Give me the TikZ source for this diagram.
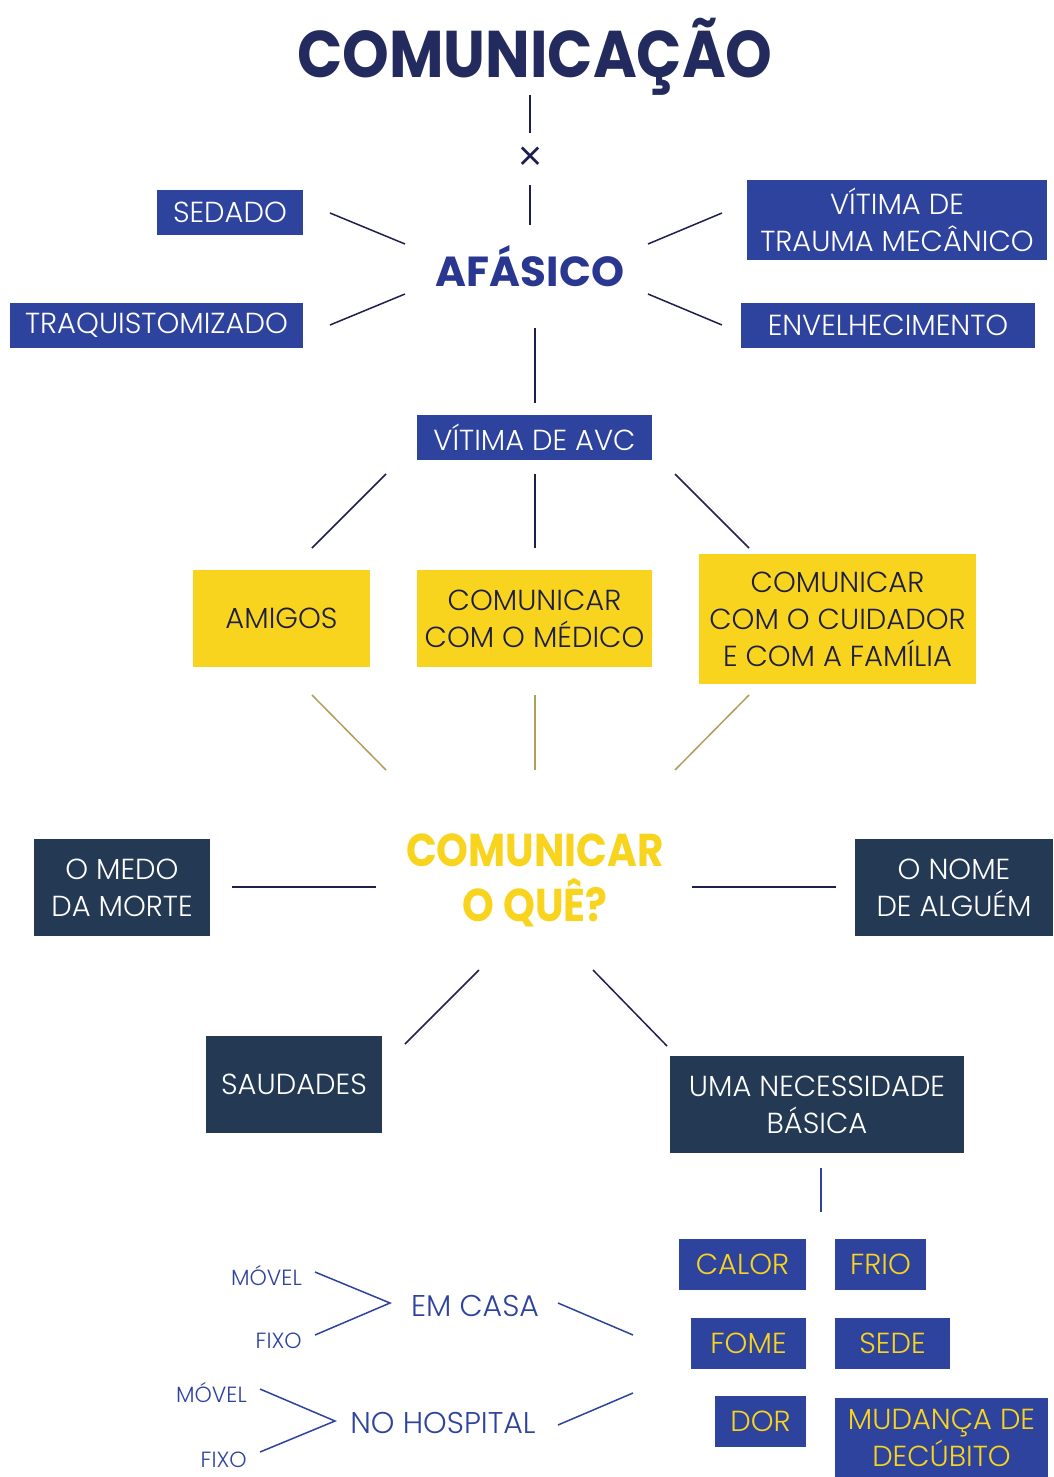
\documentclass[tikz,border=0pt]{standalone}
\usepackage{fontspec}
\setmainfont{Poppins}[UprightFont=* Light, BoldFont=* Bold]
\definecolor{navy}{RGB}{35,43,94}
\definecolor{afblue}{RGB}{42,55,144}
\definecolor{boxblue}{RGB}{46,67,158}
\definecolor{ylw}{RGB}{248,212,30}
\definecolor{slate}{RGB}{35,57,84}
\definecolor{lnnavy}{RGB}{31,31,79}
\definecolor{olive}{RGB}{176,158,90}
\definecolor{ytext}{RGB}{30,30,64}
\begin{document}
\begin{tikzpicture}[x=1pt,y=-1pt,
  boxtxt/.style={font=\fontsize{29}{37}\selectfont, align=center, inner sep=0pt},
  bluebox/.style={boxtxt, fill=boxblue, text=white},
  goldbox/.style={boxtxt, fill=boxblue, text=ylw},
  ybox/.style={boxtxt, fill=ylw, text=ytext},
  sbox/.style={boxtxt, fill=slate, text=white},
  ln/.style={draw=lnnavy, line width=1.5pt},
  oln/.style={draw=olive, line width=1.5pt},
  bln/.style={draw=boxblue, line width=1.5pt},
  small/.style={font=\fontsize{22}{26}\selectfont, text=boxblue, inner sep=0pt},
  mid/.style={font=\fontsize{30}{36}\selectfont, text=boxblue, inner sep=0pt}
]
\useasboundingbox[fill=white] (0,0) rectangle (1053,1477);

% title
\node[font=\bfseries\fontsize{66}{70}\selectfont, text=navy, inner sep=0pt, xscale=0.9] (title) at (535,57) {COMUNICAÇÃO};
\coordinate (t1) at (530,95); \coordinate (t2) at (530,133);
\node[font=\fontsize{44}{44}\selectfont, text=lnnavy, inner sep=0pt] (cross) at (530,160) {×};
\coordinate (t3) at (530,185); \coordinate (t4) at (530,225);
\draw[ln] (t1) -- (t2);
\draw[ln] (t3) -- (t4);

\node[font=\bfseries\fontsize{42}{46}\selectfont, text=afblue, inner sep=0pt] (afasico) at (530,266) {AFÁSICO};

\node[bluebox, minimum width=146pt, minimum height=45pt] (sedado) at (230,212.5) {SEDADO};
\node[bluebox, minimum width=293pt, minimum height=45pt] (traq) at (156.5,325.5) {TRAQUISTOMIZADO};
\node[bluebox, minimum width=300pt, minimum height=80pt] (trauma) at (897,220) {VÍTIMA DE\\TRAUMA MECÂNICO};
\node[bluebox, minimum width=294pt, minimum height=45pt] (envel) at (888,325.5) {ENVELHECIMENTO};

\coordinate (a1) at (405,244); \coordinate (s1) at (330,213);
\coordinate (a2) at (405,294); \coordinate (s2) at (330,325);
\coordinate (a3) at (648,244); \coordinate (s3) at (722,213);
\coordinate (a4) at (648,294); \coordinate (s4) at (722,325);
\draw[ln] (a1) -- (s1);
\draw[ln] (a2) -- (s2);
\draw[ln] (a3) -- (s3);
\draw[ln] (a4) -- (s4);

\coordinate (a5) at (535,328); \coordinate (v0) at (535,403);
\draw[ln] (a5) -- (v0);

\node[bluebox, minimum width=235pt, minimum height=45pt] (avc) at (534.5,437.5) {VÍTIMA DE AVC};

\coordinate (v1) at (386,474); \coordinate (m1) at (312,548);
\coordinate (v2) at (535,474); \coordinate (m2) at (535,548);
\coordinate (v3) at (675,474); \coordinate (m3) at (749,548);
\draw[ln] (v1) -- (m1);
\draw[ln] (v2) -- (m2);
\draw[ln] (v3) -- (m3);

\node[ybox, minimum width=177pt, minimum height=97pt] (amigos) at (281.5,618.5) {AMIGOS};
\node[ybox, minimum width=235pt, minimum height=97pt] (medico) at (534.5,618.5) {COMUNICAR\\COM O MÉDICO};
\node[ybox, minimum width=277pt, minimum height=130pt] (cuidador) at (837.5,619) {COMUNICAR\\COM O CUIDADOR\\E COM A FAMÍLIA};

\coordinate (n1) at (312,695); \coordinate (q1) at (386,770);
\coordinate (n2) at (535,695); \coordinate (q2) at (535,770);
\coordinate (n3) at (749,695); \coordinate (q3) at (675,770);
\draw[oln] (n1) -- (q1);
\draw[oln] (n2) -- (q2);
\draw[oln] (n3) -- (q3);

\node[font=\bfseries\fontsize{46}{55}\selectfont, text=ylw, align=center, inner sep=0pt, xscale=0.88] (que) at (535,880) {COMUNICAR\\O QUÊ?};

\node[sbox, minimum width=176pt, minimum height=97pt] (medo) at (122,887.5) {O MEDO\\DA MORTE};
\node[sbox, minimum width=198pt, minimum height=97pt] (nome) at (954,887.5) {O NOME\\DE ALGUÉM};

\coordinate (q4) at (376,887); \coordinate (e4) at (232,887);
\coordinate (q5) at (692,887); \coordinate (e5) at (836,887);
\draw[ln] (q4) -- (e4);
\draw[ln] (q5) -- (e5);

\coordinate (q6) at (479,970); \coordinate (e6) at (405,1044);
\coordinate (q7) at (593,970); \coordinate (e7) at (667,1046);
\draw[ln] (q6) -- (e6);
\draw[ln] (q7) -- (e7);

\node[sbox, minimum width=176pt, minimum height=97pt] (saudades) at (294,1084.5) {SAUDADES};
\node[sbox, minimum width=294pt, minimum height=97pt] (necess) at (817,1104.5) {UMA NECESSIDADE\\BÁSICA};

\coordinate (b1) at (821,1168); \coordinate (b2) at (821,1212);
\draw[bln] (b1) -- (b2);

\node[goldbox, minimum width=127pt, minimum height=51pt] (calor) at (742.5,1264.5) {CALOR};
\node[goldbox, minimum width=91pt, minimum height=51pt] (frio) at (880.5,1264.5) {FRIO};
\node[goldbox, minimum width=115pt, minimum height=51pt] (fome) at (748.5,1343.5) {FOME};
\node[goldbox, minimum width=115pt, minimum height=51pt] (sede) at (892.5,1343.5) {SEDE};
\node[goldbox, minimum width=91pt, minimum height=51pt] (dor) at (760.5,1421.5) {DOR};
\node[goldbox, minimum width=213pt, minimum height=81pt, text depth=0pt] (mudanca) at (941.5,1438) {MUDANÇA DE\\DECÚBITO};

\node[mid] (casa) at (475,1306) {EM CASA};
\node[mid] (hosp) at (443,1423) {NO HOSPITAL};
\coordinate (c1) at (558,1303); \coordinate (c2) at (633,1335);
\coordinate (h1) at (558,1425); \coordinate (h2) at (633,1393);
\draw[bln] (c1) -- (c2);
\draw[bln] (h1) -- (h2);

\node[small, anchor=east] (movel1) at (302,1276) {MÓVEL};
\node[small, anchor=east] (fixo1) at (302,1341) {FIXO};
\node[small, anchor=east] (movel2) at (247,1393) {MÓVEL};
\node[small, anchor=east] (fixo2) at (247,1460) {FIXO};
\coordinate (k1) at (315,1272); \coordinate (k2) at (390,1303); \coordinate (k3) at (315,1335);
\coordinate (j1) at (260,1389); \coordinate (j2) at (335,1421); \coordinate (j3) at (260,1452);
\draw[bln] (k1) -- (k2) -- (k3);
\draw[bln] (j1) -- (j2) -- (j3);
\end{tikzpicture}
\end{document}
